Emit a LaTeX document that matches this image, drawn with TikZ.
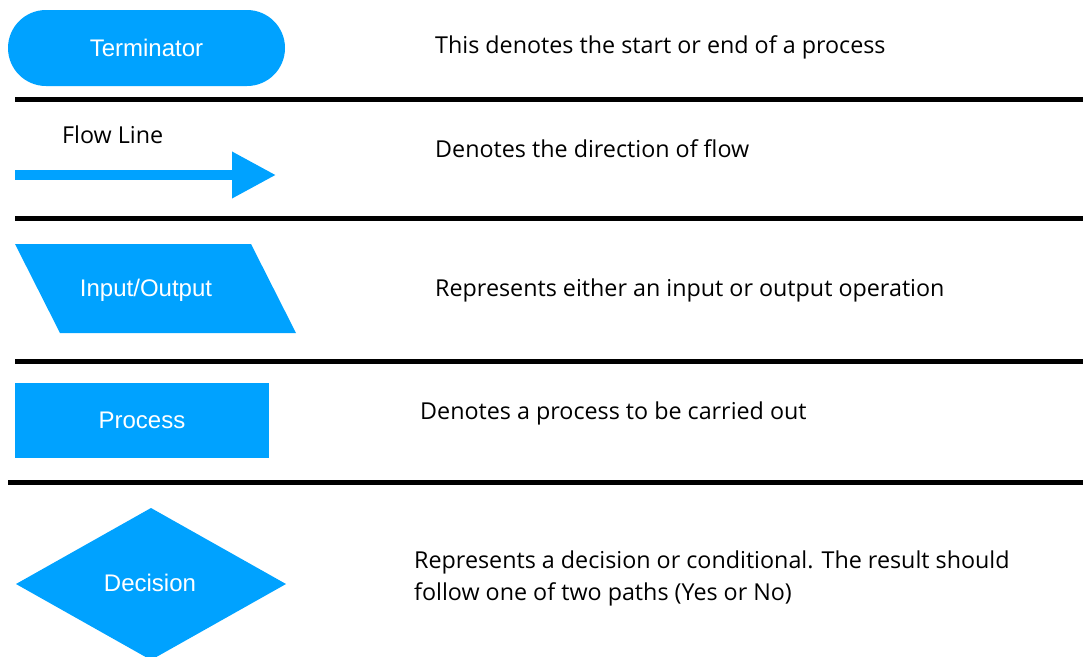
\documentclass[tikz,border=0pt]{standalone}
\usepackage{fontspec}
\setmainfont{Open Sans}
\newfontfamily\shapefont{Liberation Sans}
\usetikzlibrary{positioning, calc, arrows.meta}
\definecolor{symbolblue}{RGB}{0, 162, 255}

\begin{document}
\begin{tikzpicture}[x=1pt, y=-1pt,
        symbol/.style={fill=symbolblue, draw=none},
        symtext/.style={text=white, font=\shapefont\fontsize{24}{28}\selectfont},
        desc/.style={anchor=west, inner sep=0pt, align=left, font=\fontsize{23.3}{32}\selectfont},
        rule/.style={line width=5pt, black}]
    \useasboundingbox (0,0) rectangle (1083,656);

    % terminator
    \node[symbol, symtext, rounded corners=38pt, minimum width=277pt, minimum height=76pt] (term) at (146.5,48) {Terminator};
    \node[desc] (descTerm) at (435,47) {This denotes the start or end of a process};
    \draw[rule] (15,99) -- (1083,99);

    % flow line
    \node[desc] (flowText) at (62,135) {Flow Line};
    \coordinate (flowA) at (15,175);
    \coordinate (flowB) at (276,175);
    \draw[symbolblue, line width=10pt, -{Triangle[length=44pt, width=44pt]}] (flowA) -- (flowB);
    \node[desc] (descFlow) at (435,149) {Denotes the direction of flow};
    \draw[rule] (15,218) -- (1083,218);

    % input/output
    \fill[symbolblue] (15,244) -- (251,244) -- (296,333) -- (60,333) -- cycle;
    \node[symtext] (io) at (146,290) {Input/Output};
    \node[desc] (descIO) at (435,290) {Represents either an input or output operation};
    \draw[rule] (15,361) -- (1083,361);

    % process
    \node[symbol, symtext, minimum width=254pt, minimum height=75pt] (proc) at (142,420.5) {Process};
    \node[desc] (descProc) at (420,413) {Denotes a process to be carried out};
    \draw[rule] (8,482) -- (1083,482);

    % decision
    \fill[symbolblue] (151,508) -- (286,584) -- (151,660) -- (16,584) -- cycle;
    \node[symtext] (dec) at (150,583) {Decision};
    \node[desc] (descDec) at (414,578) {Represents a decision or conditional. The result should\\follow one of two paths (Yes or No)};
\end{tikzpicture}
\end{document}
